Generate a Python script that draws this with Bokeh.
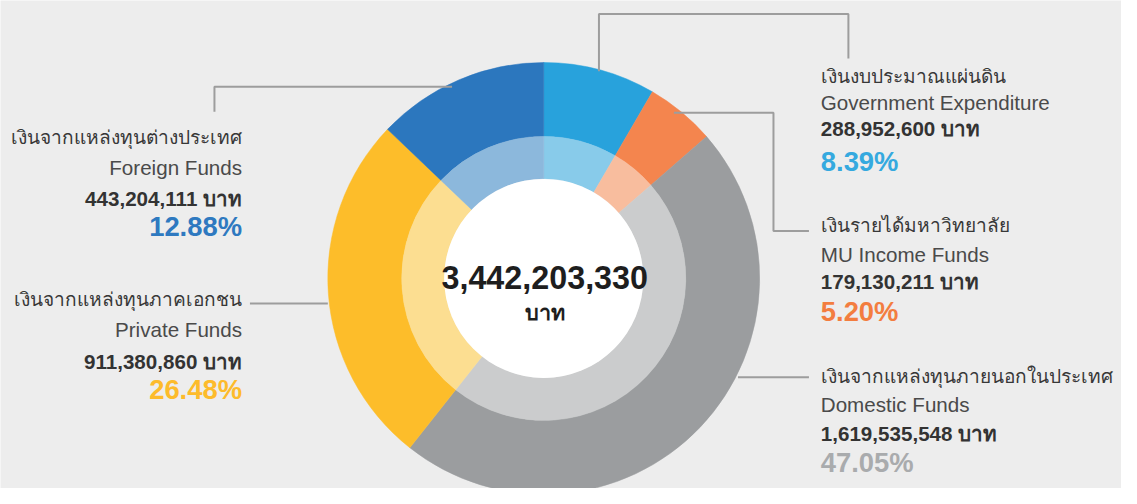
from bokeh.plotting import figure
from bokeh.models import Range1d
from bokeh.core.properties import value
from bokeh.embed import file_html
from bokeh.resources import INLINE
import math

# ---- data ----
categories_th = ["เงินงบประมาณแผ่นดิน", "เงินรายได้มหาวิทยาลัย",
                 "เงินจากแหล่งทุนภายนอกในประเทศ", "เงินจากแหล่งทุนภาคเอกชน",
                 "เงินจากแหล่งทุนต่างประเทศ"]
categories_en = ["Government Expenditure", "MU Income Funds", "Domestic Funds",
                 "Private Funds", "Foreign Funds"]
amounts = [288952600, 179130211, 1619535548, 911380860, 443204111]
percents = [8.39, 5.20, 47.05, 26.48, 12.88]
total_label = "3,442,203,330"
unit = "บาท"

# ---- styles ----
outer_colors = ["#28A2DC", "#F4854E", "#9B9D9F", "#FDBD2A", "#2C77BE"]
inner_colors = ["#88CBEA", "#F8BD9E", "#CBCCCD", "#FCDE91", "#8CB8DC"]
pct_colors = ["#35A9DF", "#F37D3F", "#A9ABAD", "#FDBB2B", "#2E79C0"]
BG = "#EDEDED"
FONT = "Liberation Sans"
W, H = 1137, 504  # layout coordinate space

def Y(py):
    return H - py

S = 0.98  # font scale (figure is slightly smaller than layout space)

def fs(px):
    return f"{px * S:.1f}px"

p = figure(width=1121, height=488, output_backend="svg", toolbar_location=None,
           x_range=Range1d(0, W), y_range=Range1d(0, H))
p.axis.visible = False
p.grid.visible = False
p.min_border = 0
p.outline_line_color = None
p.background_fill_color = BG
p.border_fill_color = BG

cx, cy = 551, Y(287)
r_white, r_mid, r_out = 101, 144, 219

total = sum(amounts)
cum = [0.0]
for a in amounts:
    cum.append(cum[-1] + a / total)
starts = [math.pi / 2 - 2 * math.pi * c for c in cum[:-1]]
ends = [math.pi / 2 - 2 * math.pi * c for c in cum[1:]]

n = len(amounts)
p.annular_wedge(x=[cx] * n, y=[cy] * n, inner_radius=r_mid, outer_radius=r_out,
                start_angle=starts, end_angle=ends, direction="clock",
                fill_color=outer_colors, line_color=outer_colors, line_width=0.5)
p.annular_wedge(x=[cx] * n, y=[cy] * n, inner_radius=r_white, outer_radius=r_mid,
                start_angle=starts, end_angle=ends, direction="clock",
                fill_color=inner_colors, line_color=inner_colors, line_width=0.5)
p.circle(x=[cx], y=[cy], radius=r_white, fill_color="white", line_color=None)

# center text
p.text(x=[cx + 1], y=[Y(286)], text=[total_label], text_align="center",
       text_baseline="middle", text_font=value(FONT), text_font_style="bold",
       text_font_size=fs(33), text_color="#1E1E1E")
p.text(x=[cx + 1], y=[Y(322)], text=[unit], text_align="center",
       text_baseline="middle", text_font=value(FONT), text_font_style="bold",
       text_font_size=fs(22), text_color="#1E1E1E")

# connector lines (layout)
line_kw = dict(line_color="#9D9D9D", line_width=2)
p.line(x=[217, 217, 458], y=[Y(115), Y(89), Y(89)], **line_kw)           # foreign
p.line(x=[607, 607, 860, 860], y=[Y(73), Y(14), Y(14), Y(60)], **line_kw)  # government
p.line(x=[683, 784, 784, 820], y=[Y(116), Y(116), Y(238), Y(238)], **line_kw)  # MU
p.line(x=[748, 820], y=[Y(389), Y(389)], **line_kw)                       # domestic
p.line(x=[253, 332], y=[Y(313), Y(313)], **line_kw)                       # private

# label layout: (x, align, [title_y, en_y, amount_y, pct_y])
layout = [
    (832, "left", [78, 105, 132, 166]),
    (832, "left", [232, 262, 290, 321]),
    (832, "left", [388, 417, 447, 477]),
    (245, "right", [309, 340, 373, 402]),
    (245, "right", [141, 172, 205, 233]),
]

for i in range(n):
    lx, al, ys = layout[i]
    p.text(x=[lx], y=[Y(ys[0])], text=[categories_th[i]], text_align=al,
           text_baseline="middle", text_font=value(FONT), text_font_size=fs(19.5),
           text_color="#383838")
    p.text(x=[lx], y=[Y(ys[1])], text=[categories_en[i]], text_align=al,
           text_baseline="middle", text_font=value(FONT), text_font_size=fs(21),
           text_color="#4A4A4A")
    p.text(x=[lx], y=[Y(ys[2])], text=[f"{amounts[i]:,} {unit}"], text_align=al,
           text_baseline="middle", text_font=value(FONT), text_font_style="bold",
           text_font_size=fs(21), text_color="#333333")
    p.text(x=[lx], y=[Y(ys[3])], text=[f"{percents[i]:.2f}%"], text_align=al,
           text_baseline="middle", text_font=value(FONT), text_font_style="bold",
           text_font_size=fs(28), text_color=pct_colors[i])

open("out.html", "w").write(file_html(p, INLINE))
